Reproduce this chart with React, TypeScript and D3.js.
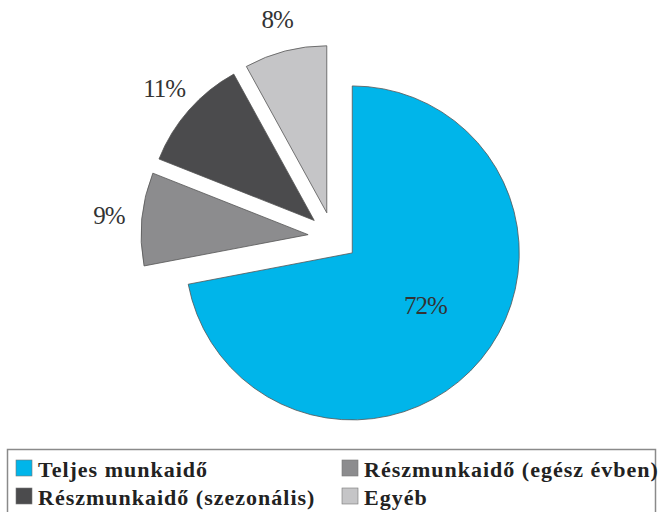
import React, { useEffect, useRef } from 'react';
import * as d3 from 'd3';

// Adatok
const categories = [
  'Teljes munkaidő',
  'Részmunkaidő (egész évben)',
  'Részmunkaidő (szezonális)',
  'Egyéb',
];
const values = [72, 9, 11, 8];
const labels = ['72%', '9%', '11%', '8%'];
const colors = ['#00b5ea', '#8c8c8e', '#4b4b4d', '#c5c5c7'];

// Jelmagyarázat sorrendje (két oszlop)
const legendOrder = [0, 1, 2, 3];

const FONT = "'Liberation Serif', 'Times New Roman', Tinos, 'DejaVu Serif', 'Noto Serif', serif";

const App = () => {
  const svgRef = useRef<SVGSVGElement>(null);

  useEffect(() => {
    const width = 662;
    const height = 512;
    const cx = 333;
    const cy = 237;
    const radius = 167;
    const explode = 25;

    const svg = d3.select(svgRef.current)
      .attr('width', width)
      .attr('height', height);
    svg.selectAll('*').remove();

    svg.append('rect')
      .attr('width', width)
      .attr('height', height)
      .attr('fill', '#ffffff');

    const pie = d3.pie<number>().sort(null).startAngle(0).endAngle(2 * Math.PI);
    const arcs = pie(values);

    const arc = d3.arc<d3.PieArcDatum<number>>()
      .innerRadius(0)
      .outerRadius(radius);

    const g = svg.append('g').attr('transform', `translate(${cx}, ${cy})`);

    const offset = (d: d3.PieArcDatum<number>) => {
      const mid = (d.startAngle + d.endAngle) / 2;
      return [Math.sin(mid) * explode, -Math.cos(mid) * explode];
    };

    // Szeletek
    g.selectAll('path.slice')
      .data(arcs)
      .enter()
      .append('path')
      .attr('class', 'slice')
      .attr('transform', d => `translate(${offset(d)[0]}, ${offset(d)[1]})`)
      .attr('d', arc)
      .attr('fill', (d, i) => colors[i])
      .attr('stroke', '#555555')
      .attr('stroke-width', 0.8);

    // Címkék: belső címke a nagy szeleten, a többi kívül
    const labelR = (d: d3.PieArcDatum<number>) => (d.index === 0 ? 95 : 200);
    g.selectAll('text.label')
      .data(arcs)
      .enter()
      .append('text')
      .attr('class', 'label')
      .attr('x', d => {
        const mid = (d.startAngle + d.endAngle) / 2;
        return offset(d)[0] + Math.sin(mid) * labelR(d);
      })
      .attr('y', d => {
        const mid = (d.startAngle + d.endAngle) / 2;
        return offset(d)[1] - Math.cos(mid) * labelR(d);
      })
      .attr('dy', d => (d.index === 0 ? -8 : 0))
      .attr('text-anchor', 'middle')
      .attr('dominant-baseline', 'central')
      .style('font-family', FONT)
      .style('font-size', '25px')
      .style('letter-spacing', '-1px')
      .attr('fill', '#333333')
      .text((d, i) => labels[i]);

    // Jelmagyarázat
    const legend = svg.append('g');
    legend.append('rect')
      .attr('x', 7.5)
      .attr('y', 449.5)
      .attr('width', 648)
      .attr('height', 70)
      .attr('fill', '#ffffff')
      .attr('stroke', '#8a8a8a')
      .attr('stroke-width', 1.5);

    const colX = [16, 342];
    const rowY = [468, 496];

    const items = legend.selectAll('g.item')
      .data(legendOrder)
      .enter()
      .append('g')
      .attr('class', 'item')
      .attr('transform', (d, i) => `translate(${colX[i % 2]}, ${rowY[Math.floor(i / 2)]})`);

    items.append('rect')
      .attr('x', 0)
      .attr('y', -8)
      .attr('width', 16)
      .attr('height', 16)
      .attr('fill', d => colors[d])
      .attr('stroke', '#777777')
      .attr('stroke-width', 0.6);

    items.append('text')
      .attr('x', 22)
      .attr('y', 1)
      .attr('dominant-baseline', 'central')
      .style('font-family', FONT)
      .style('font-weight', 'bold')
      .style('font-size', '22px')
      .style('letter-spacing', '1px')
      .attr('fill', '#222222')
      .text(d => categories[d]);
  }, []);

  return (
    <svg ref={svgRef} style={{ position: 'absolute', left: 0, top: 0 }}></svg>
  );
};

export default App;
